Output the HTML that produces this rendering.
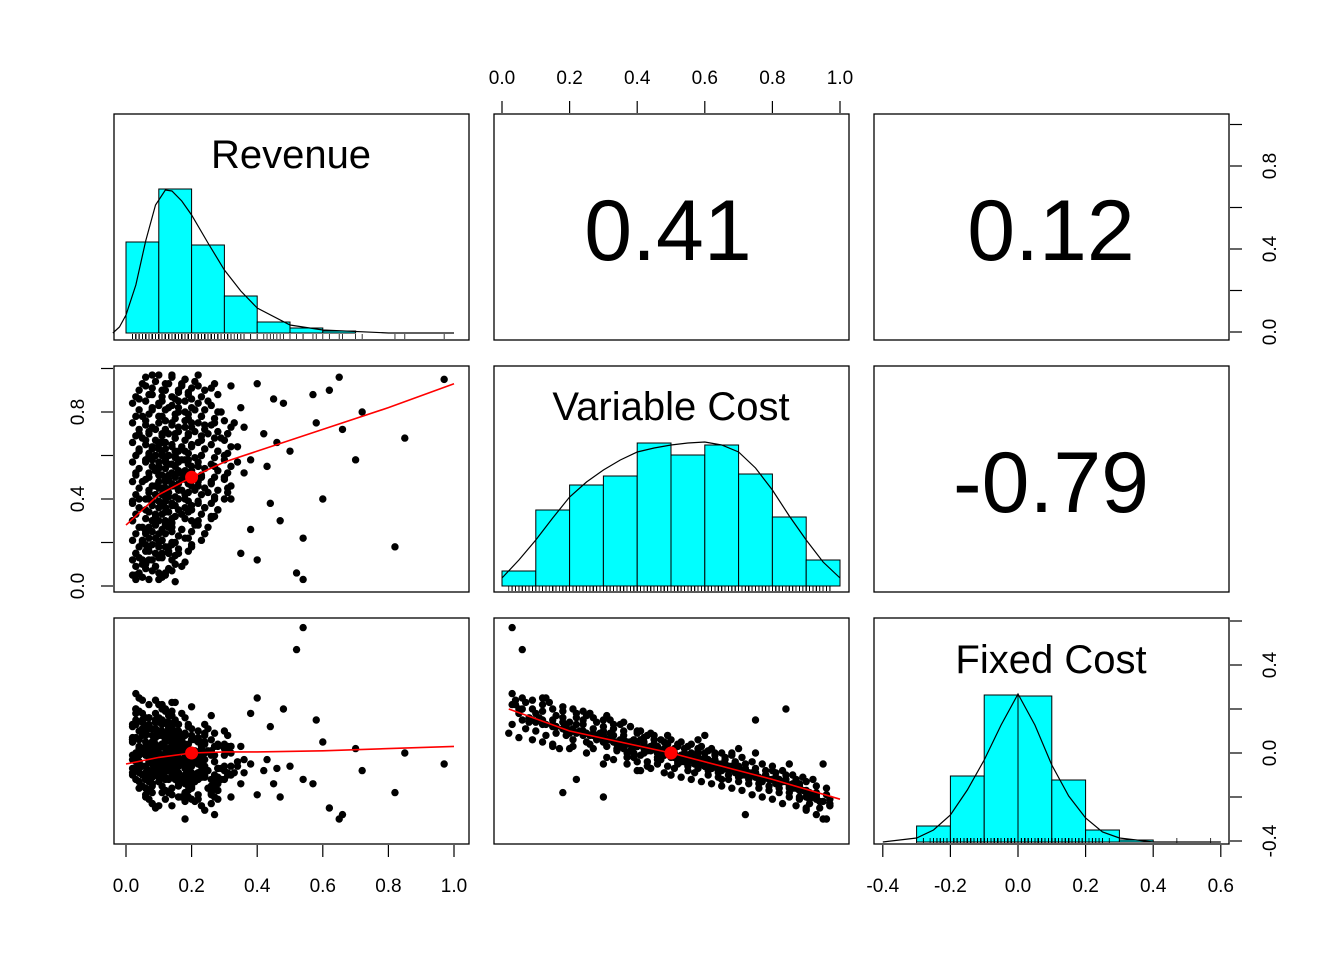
<!DOCTYPE html>
<html><head><meta charset="utf-8"><style>
body{margin:0;background:#fff}
svg{display:block;font-family:"Liberation Sans",Arial,sans-serif}
</style></head><body>
<svg id="c" width="1344" height="960" viewBox="0 0 1344 960"></svg>
<script>
// observations [revenue, variableCost, fixedCost]
const obs=[[.05,.12,.15],[.08,.30,.05],[.12,.45,.02],[.15,.62,-.05],[.18,.80,-.12],[.22,.55,-.03],[.25,.70,-.08],[.10,.20,.10],[.03,.05,.18],[.14,.38,.04],
[.07,.50,0],[.11,.66,-.07],[.16,.85,-.15],[.20,.35,.06],[.26,.48,-.01],[.30,.60,-.06],[.06,.25,.09],[.09,.72,-.10],[.13,.15,.12],[.17,.93,-.20],
[.04,.40,.03],[.19,.58,-.02],[.23,.78,-.11],[.28,.88,-.17],[.12,.28,.07],[.08,.63,-.04],[.15,.10,.14],[.21,.44,.01],[.33,.75,-.09],[.10,.83,-.13],
[.05,.68,-.06],[.14,.52,-.02],[.18,.22,.09],[.24,.36,.05],[.11,.90,-.18],[.07,.18,.11],[.16,.73,-.09],[.20,.65,-.05],[.27,.55,-.04],[.35,.82,-.14],
[.09,.42,.02],[.13,.60,-.03],[.02,.30,.06],[.19,.47,0],[.22,.92,-.19],[.12,.76,-.11],[.06,.08,.16],[.17,.33,.05],[.29,.68,-.07],[.15,.46,.03],
[.38,.58,-.05],[.10,.55,-.01],[.04,.62,-.04],[.25,.85,-.16],[.14,.27,.08],[.08,.88,-.15],[.21,.71,-.10],[.31,.45,.02],[.11,.37,.04],[.18,.95,-.22],
[.16,.15,.13],[.05,.48,.01],[.23,.60,-.04],[.13,.82,-.12],[.09,.32,.07],[.27,.40,.03],[.19,.77,-.13],[.12,.05,.20],[.34,.64,-.06],[.07,.71,-.08],
[.20,.53,-.01],[.15,.68,-.07],[.10,.24,.10],[.26,.91,-.18],[.03,.52,-.02],[.18,.42,.04],[.22,.28,.07],[.14,.87,-.16],[.08,.58,-.03],[.29,.80,-.12],
[.42,.70,-.08],[.12,.49,0],[.17,.64,-.05],[.06,.35,.05],[.24,.74,-.10],[.11,.13,.13],[.36,.52,-.03],[.15,.79,-.12],[.20,.19,.11],[.09,.67,-.06],
[.13,.43,.02],[.28,.35,.04],[.05,.78,-.10],[.19,.89,-.17],[.23,.50,-.02],[.16,.57,-.04],[.07,.44,.03],[.32,.92,-.20],[.11,.70,-.09],[.14,.31,.06],
[.45,.86,-.14],[.50,.62,-.06],[.54,.03,.57],[.52,.06,.47],[.58,.75,.15],[.62,.90,-.25],[.65,.96,-.30],[.70,.58,.02],[.85,.68,0],[.97,.95,-.05],[.82,.18,-.18],
[.47,.30,-.20],[.40,.12,.25],[.60,.40,.05],[.44,.38,.12],[.48,.84,.20],[.54,.22,-.12],[.66,.72,-.28],[.38,.26,.18],[.72,.80,-.08],
[.40,.93,-.19],[.35,.15,.03],[.43,.55,-.03],[.57,.88,-.14],[.46,.66,-.07],
[.10,.51,-.02],[.12,.58,-.05],[.14,.64,-.08],[.16,.40,.03],[.18,.36,.02],[.13,.70,-.06],[.09,.46,0],[.11,.61,-.03],[.15,.55,-.03],[.17,.49,.01],
[.06,.57,-.01],[.08,.39,.04],[.12,.34,.05],[.14,.75,-.10],[.16,.82,-.14],[.19,.69,-.09],[.21,.59,-.04],[.22,.46,0],[.24,.63,-.06],[.10,.78,-.11],
[.05,.27,.08],[.07,.16,.12],[.09,.09,.15],[.11,.21,.10],[.13,.49,.01],[.15,.37,.05],[.17,.26,.08],[.19,.56,-.03],[.21,.81,-.13],[.23,.67,-.08],
[.25,.43,.01],[.27,.75,-.11],[.12,.93,-.21],[.08,.81,-.14],[.06,.74,-.09],[.04,.86,-.16],[.14,.97,-.24],[.10,.65,-.08],[.18,.73,-.10],[.20,.86,-.15],
[.16,.52,-.03],[.13,.56,0],[.11,.45,.04],[.09,.53,-.04],[.15,.60,-.06],[.17,.44,.02],[.19,.39,0],[.12,.41,.06],[.14,.47,-.02],[.18,.62,-.07],
[.26,.32,.06],[.30,.50,-.01],[.32,.40,.03],[.28,.62,-.07],[.31,.70,-.1],[.22,.38,.05],[.24,.24,.09],[.20,.30,.08],[.36,.73,-.09],[.34,.57,-.04],
[.07,.60,-.02],[.05,.20,.14],[.03,.15,.13],[.02,.38,.05],[.04,.70,-.07],[.06,.92,-.19],[.08,.97,-.23],[.10,.03,.22],[.13,.18,.11],[.16,.90,-.2],
[.09,.60,.08],[.12,.30,-.05],[.15,.70,.02],[.18,.50,-.10],[.07,.40,-.08],[.20,.75,.0],[.11,.85,-.05],[.14,.20,.02],[.17,.58,.06],[.06,.65,-.12],
[.03,.03,.27],[.07,.03,.13],[.11,.04,.22],[.15,.02,.09],[.05,.04,.24],
[.04,.06,.25],[.08,.07,.11],[.12,.06,.2],[.02,.05,.07],[.10,.06,.15],[.14,.07,.23],
[.03,.09,.2],[.06,.10,.1],[.09,.09,.24],[.13,.08,.14],[.17,.09,.06],[.05,.10,.18],
[.02,.12,.13],[.07,.12,.22],[.10,.13,.08],[.14,.12,.19],[.18,.11,.16],[.04,.13,.25],[.08,.12,.05],
[.03,.15,.2],[.06,.16,.09],[.11,.15,.15],[.15,.14,.23],[.19,.16,.12],[.09,.15,.04],[.13,.16,.17],
[.04,.18,.19],[.08,.19,.08],[.12,.18,.14],[.16,.17,.02],[.20,.18,.21],[.06,.19,.12],[.10,.18,.16],[.14,.19,.1],
[.02,.21,.06],[.07,.22,.16],[.11,.21,.2],[.15,.20,.09],[.19,.22,.13],[.23,.21,.03],[.05,.21,.11],[.09,.22,.18],
[.03,.24,.15],[.08,.25,.05],[.12,.24,.19],[.16,.23,.1],[.20,.25,.0],[.24,.24,.13],[.06,.24,.08],[.14,.25,.17],
[.04,.27,.02],[.09,.28,.14],[.13,.27,.09],[.17,.26,.18],[.21,.28,.06],[.25,.27,.11],[.07,.27,.16],[.11,.26,.04],
[.02,.30,.12],[.06,.31,.03],[.10,.30,.15],[.14,.29,.07],[.18,.31,-.02],[.22,.30,.1],[.26,.31,.17],[.08,.30,.05],[.12,.29,.09],
[.03,.33,.13],[.07,.34,.01],[.11,.33,.08],[.15,.32,.15],[.19,.34,.04],[.23,.33,-.03],[.27,.32,.09],[.09,.33,.11],[.13,.34,.02],
[.04,.36,.1],[.08,.37,-.02],[.12,.36,.06],[.16,.35,.13],[.20,.37,.0],[.24,.36,.08],[.28,.35,.03],[.10,.36,.14],[.14,.37,-.05],
[.02,.39,-.01],[.06,.40,.09],[.10,.39,.03],[.14,.38,.12],[.18,.40,-.04],[.22,.39,.06],[.26,.38,.01],[.30,.40,.1],[.12,.39,-.02],
[.03,.42,.07],[.07,.43,-.04],[.11,.42,.03],[.15,.41,.1],[.19,.43,-.06],[.23,.42,.05],[.27,.41,-.01],[.31,.43,.08],[.09,.42,.0],[.13,.41,-.08],
[.04,.45,.06],[.08,.46,-.05],[.12,.45,.02],[.16,.44,.09],[.20,.46,-.03],[.24,.45,.04],[.28,.44,-.07],[.32,.46,.0],[.10,.45,.08],[.14,.46,-.02],
[.02,.48,.05],[.06,.49,-.06],[.10,.48,.02],[.14,.47,-.03],[.18,.49,.08],[.22,.48,-.09],[.26,.47,.01],[.30,.49,.04],[.12,.48,-.01],[.16,.47,.06],
[.03,.51,-.07],[.07,.52,.04],[.11,.51,-.02],[.15,.50,.06],[.19,.52,-.05],[.23,.51,.02],[.27,.50,-.1],[.31,.52,.03],[.13,.51,.0],[.17,.52,-.04],
[.04,.54,.02],[.08,.55,-.08],[.12,.54,-.01],[.16,.53,.05],[.20,.55,-.06],[.24,.54,0],[.28,.53,-.11],[.32,.55,.03],[.10,.54,-.04],[.18,.53,-.02],
[.02,.57,-.09],[.06,.58,.01],[.10,.57,-.03],[.14,.56,.04],[.18,.58,-.07],[.22,.57,-.01],[.26,.56,-.12],[.30,.58,.02],[.12,.57,-.05],[.16,.58,0],
[.03,.60,0],[.07,.61,-.1],[.11,.60,-.03],[.15,.59,.03],[.19,.61,-.08],[.23,.60,-.02],[.27,.59,-.13],[.31,.61,.01],[.13,.60,-.06],
[.04,.63,-.01],[.08,.64,-.11],[.12,.63,-.04],[.16,.62,.02],[.20,.64,-.09],[.24,.63,-.03],[.28,.62,-.14],[.32,.64,-.06],[.10,.63,0],
[.02,.66,-.03],[.06,.67,-.12],[.10,.66,-.06],[.14,.65,.0],[.18,.67,-.1],[.22,.66,-.05],[.26,.65,-.15],[.30,.67,-.08],[.12,.66,-.02],
[.03,.69,-.04],[.07,.70,-.13],[.11,.69,-.07],[.15,.68,-.01],[.19,.70,-.11],[.23,.69,-.06],[.27,.68,-.16],[.31,.70,-.09],
[.04,.72,-.05],[.08,.73,-.14],[.12,.72,-.08],[.16,.71,-.02],[.20,.73,-.12],[.24,.72,-.07],[.28,.71,-.17],[.32,.73,-.1],
[.02,.75,-.07],[.06,.76,-.16],[.10,.75,-.1],[.14,.74,-.04],[.18,.76,-.14],[.22,.75,-.09],[.26,.74,-.19],[.30,.76,-.12],
[.03,.78,-.08],[.07,.79,-.17],[.11,.78,-.11],[.15,.77,-.05],[.19,.79,-.15],[.23,.78,-.1],[.27,.77,-.2],
[.04,.81,-.09],[.08,.82,-.18],[.12,.81,-.12],[.16,.80,-.06],[.20,.82,-.16],[.24,.81,-.11],[.28,.80,-.21],
[.02,.84,-.1],[.06,.85,-.2],[.10,.84,-.13],[.14,.83,-.08],[.18,.85,-.18],[.22,.84,-.12],[.26,.83,-.23],
[.03,.87,-.12],[.07,.88,-.21],[.11,.87,-.15],[.15,.86,-.1],[.19,.88,-.2],[.23,.87,-.24],
[.04,.90,-.13],[.08,.91,-.23],[.12,.90,-.17],[.16,.89,-.11],[.20,.91,-.21],[.24,.90,-.26],
[.05,.93,-.15],[.09,.94,-.25],[.13,.93,-.18],[.17,.92,-.12],[.21,.94,-.22],[.27,.93,-.28],
[.06,.96,-.16],[.10,.97,-.24],[.14,.96,-.19],[.18,.95,-.3],[.22,.97,-.21]];
const revBins=[0,.1,.2,.3,.4,.5,.6,.7];
const revCounts=[91,144,88,37,11,5,2];
const vcBins=[0,.1,.2,.3,.4,.5,.6,.7,.8,.9,1.0];
const vcCounts=[15,76,101,110,143,131,141,112,69,26];
const fcBins=[-.3,-.2,-.1,0,.1,.2,.3,.4];
const fcCounts=[16,66,147,146,62,12,2];
const revDensX=[-.04,-.02,0,.03,.06,.09,.12,.14,.17,.2,.25,.3,.35,.4,.5,.6,.8,1.0];
const revDensY=[0,6,18,48,92,128,143,142,132,118,90,63,42,25,8,3,0,0];
const vcDensX=[0,.05,.1,.15,.2,.25,.3,.35,.4,.45,.5,.55,.6,.65,.7,.75,.8,.85,.9,.95,1.0];
const vcDensY=[8,26,46,68,89,104,116,126,134,138,141,143,144,141,134,118,96,70,46,24,8];
const fcDensX=[-.4,-.3,-.25,-.2,-.15,-.1,-.05,0,.05,.1,.15,.2,.25,.3,.4,.6];
const fcDensY=[0,4,12,27,52,82,117,148,117,77,46,24,10,4,0,0];
const loessRVx=[0,.1,.2,.3,.4,.6,.8,1.0], loessRVy=[.28,.42,.5,.57,.62,.72,.82,.93];
const loessRFx=[0,.1,.2,.3,.4,.6,.8,1.0], loessRFy=[-.05,-.02,0,.005,.005,.01,.02,.03];
const loessVFx=[.02,.2,.5,.7,.8,1.0], loessVFy=[.2,.1,0,-.08,-.12,-.21];
const means=[.2,.5,0];
const corrs=["0.41","0.12","-0.79"];
const ticks01=["0.0","0.2","0.4","0.6","0.8","1.0"];
const ticksFC=["-0.4","-0.2","0.0","0.2","0.4","0.6"];

const NS="http://www.w3.org/2000/svg", svg=document.getElementById('c');
function el(t,a,p){const e=document.createElementNS(NS,t);for(const k in a)e.setAttribute(k,a[k]);(p||svg).appendChild(e);return e;}
const xRev=v=>126+328*v, xVC=v=>502+338*v, xFC=v=>1018+338*v;
const yVC=v=>586-217.5*v, yFC=v=>753-220*v;
const hRev=c=>333-c, hVC=c=>586-c, hFC=c=>842-c;

const cols=[114,494,874], rows=[114,366,618], W=355, H=226;
function hist(bins,counts,xs,ys,name){
  const g=el('g',{});
  counts.forEach((n,i)=>{const x0=xs(bins[i]),x1=xs(bins[i+1]);
    const b=el('rect',{x:x0,y:ys(n),width:x1-x0,height:ys(0)-ys(n),fill:'#00ffff',stroke:'#000','stroke-width':1},g);
    });
}
function line(xa,ya,xs,ys,col,name,w){
  const p=el('polyline',{points:xa.map((x,i)=>xs(x)+','+ys(ya[i])).join(' '),fill:'none',stroke:col,'stroke-width':w||1.2});
  
}
function rug(idx,xs,yb,name){
  const g=el('g',{stroke:'#000','stroke-width':0.8});
  obs.forEach(o=>el('line',{x1:xs(o[idx]),x2:xs(o[idx]),y1:yb,y2:yb-5},g));
}
function scatter(ix,iy,xs,ys,name){
  const g=el('g',{fill:'#000'});
  obs.forEach(o=>{el('circle',{cx:xs(o[ix]),cy:ys(o[iy]),r:3.7},g);});
}
hist(revBins,revCounts,xRev,hRev,'revenue-histogram');
line(revDensX,revDensY,xRev,hRev,'#000','revenue-density');
rug(0,xRev,339,'revenue-rug');
hist(vcBins,vcCounts,xVC,hVC,'variable-cost-histogram');
line(vcDensX,vcDensY,xVC,hVC,'#000','variable-cost-density');
rug(1,xVC,591,'variable-cost-rug');
hist(fcBins,fcCounts,xFC,hFC,'fixed-cost-histogram');
line(fcDensX,fcDensY,xFC,hFC,'#000','fixed-cost-density');
rug(2,xFC,843,'fixed-cost-rug');

scatter(0,1,xRev,yVC,'scatter-revenue-variable-cost');
line(loessRVx,loessRVy,xRev,yVC,'#f00','loess-revenue-variable-cost',1.6);
scatter(0,2,xRev,yFC,'scatter-revenue-fixed-cost');
line(loessRFx,loessRFy,xRev,yFC,'#f00','loess-revenue-fixed-cost',1.6);
scatter(1,2,xVC,yFC,'scatter-variable-cost-fixed-cost');
line(loessVFx,loessVFy,xVC,yFC,'#f00','loess-variable-cost-fixed-cost',1.6);
[[0,1,xRev,yVC],[0,2,xRev,yFC],[1,2,xVC,yFC]].forEach(m=>{
  const d=el('circle',{cx:m[2](means[m[0]]),cy:m[3](means[m[1]]),r:6.5,fill:'#f00'});
  
});
for(let r=0;r<3;r++)for(let c=0;c<3;c++){
  const b=el('rect',{x:cols[c],y:rows[r],width:W,height:H,fill:'none',stroke:'#000','stroke-width':1.3});
  
  
}
function txt(x,y,s,size,name,rot){
  const t=el('text',{x:x,y:y,'font-size':size,'text-anchor':'middle'});t.textContent=s;
  if(rot)t.setAttribute('transform','rotate(-90 '+x+' '+y+')');
  return t;
}
txt(291,168,'Revenue',40,'title-revenue');
txt(671,420,'Variable Cost',40,'title-variable-cost');
txt(1051,673,'Fixed Cost',40,'title-fixed-cost');
txt(668,260,corrs[0],86,'correlation-revenue-variable-cost');
txt(1051,260,corrs[1],86,'correlation-revenue-fixed-cost');
txt(1051,512,corrs[2],86,'correlation-variable-cost-fixed-cost');
const ax=el('g',{stroke:'#000','stroke-width':1.2,fill:'none'});
ticks01.forEach((t,i)=>{const v=i*.2;
  el('line',{x1:xRev(v),x2:xRev(v),y1:845,y2:857},ax); txt(xRev(v),892,t,19,'x-tick-revenue');
  el('line',{x1:xVC(v),x2:xVC(v),y1:113,y2:101},ax); txt(xVC(v),84,t,19,'x-tick-variable-cost');
});
ticksFC.forEach((t,i)=>{const v=-.4+i*.2;
  el('line',{x1:xFC(v),x2:xFC(v),y1:845,y2:857},ax); txt(xFC(v),892,t,19,'x-tick-fixed-cost');});
const yD=v=>332-207.5*v;
[0,.2,.4,.6,.8,1.0].forEach(v=>el('line',{x1:1230,x2:1242,y1:yD(v),y2:yD(v)},ax));
["0.0","0.4","0.8"].forEach((t,i)=>txt(1276,yD(i*.4),t,19,'y-tick-right-top',true));
[0,.2,.4,.6,.8,1.0].forEach(v=>el('line',{x1:113,x2:101,y1:yVC(v),y2:yVC(v)},ax));
["0.0","0.4","0.8"].forEach((t,i)=>txt(84,yVC(i*.4),t,19,'y-tick-variable-cost',true));
[-.4,-.2,0,.2,.4,.6].forEach(v=>el('line',{x1:1230,x2:1242,y1:yFC(v),y2:yFC(v)},ax));
["-0.4","0.0","0.4"].forEach((t,i)=>txt(1276,yFC(-.4+i*.4),t,19,'y-tick-fixed-cost',true));
</script>
</body></html>
